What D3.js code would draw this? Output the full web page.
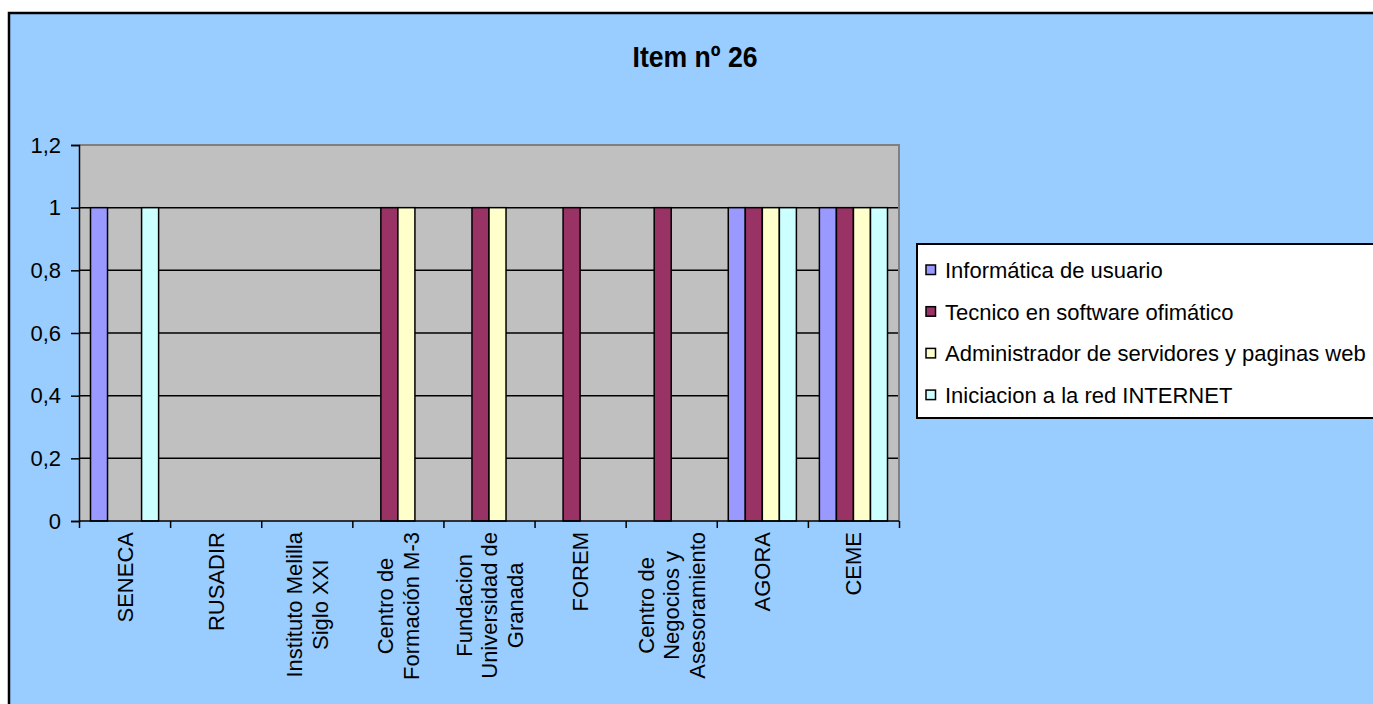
<!DOCTYPE html>
<html>
<head>
<meta charset="utf-8">
<script src="https://cdn.jsdelivr.net/npm/d3@7/dist/d3.min.js"></script>
<style>
  html, body { margin: 0; padding: 0; background: #ffffff; }
  svg { display: block; font-family: "Liberation Sans", Arial, sans-serif; }
</style>
</head>
<body>
<svg id="chart" width="1373" height="704"></svg>
<script>
const title = "Item nº 26";
const categories = [
  ["SENECA"],
  ["RUSADIR"],
  ["Instituto Melilla", "Siglo XXI"],
  ["Centro de", "Formación M-3"],
  ["Fundacion", "Universidad de", "Granada"],
  ["FOREM"],
  ["Centro de", "Negocios y", "Asesoramiento"],
  ["AGORA"],
  ["CEME"]
];
const seriesNames = [
  "Informática de usuario",
  "Tecnico en software ofimático",
  "Administrador de servidores y paginas web",
  "Iniciacion a la red INTERNET"
];
const seriesColors = ["#9999FF", "#993366", "#FFFFCC", "#CCFFFF"];
const informatica   = [1, 0, 0, 0, 0, 0, 0, 1, 1];
const tecnico       = [0, 0, 0, 1, 1, 1, 1, 1, 1];
const administrador = [0, 0, 0, 1, 1, 0, 0, 1, 1];
const iniciacion    = [1, 0, 0, 0, 0, 0, 0, 1, 1];
const yTicks = [0, 0.2, 0.4, 0.6, 0.8, 1, 1.2];
const yTickLabels = ["0", "0,2", "0,4", "0,6", "0,8", "1", "1,2"];

const seriesValues = [informatica, tecnico, administrador, iniciacion];

const svg = d3.select("#chart");

// chart area
svg.append("rect")
  .attr("x", 9).attr("y", 13)
  .attr("width", 1420).attr("height", 720)
  .attr("fill", "#99CCFF")
  .attr("stroke", "#000").attr("stroke-width", 2.5);

// title
svg.append("text")
  .attr("x", 695).attr("y", 67)
  .attr("text-anchor", "middle")
  .attr("font-size", 30).attr("font-weight", "bold")
  .attr("textLength", 125).attr("lengthAdjust", "spacingAndGlyphs")
  .text(title);

const plot = { left: 79, right: 899, top: 145, bottom: 521 };

const x = d3.scaleBand()
  .domain(d3.range(categories.length))
  .range([plot.left, plot.right])
  .paddingInner(0).paddingOuter(0);

const gapRatio = 1.35;
const groupW = x.bandwidth() * 4 / (4 + gapRatio);
const xs = d3.scaleBand()
  .domain(d3.range(seriesNames.length))
  .range([0, groupW]);

const y = d3.scaleLinear().domain([0, 1.2]).range([plot.bottom, plot.top]);

// plot background
svg.append("rect")
  .attr("x", plot.left).attr("y", plot.top)
  .attr("width", plot.right - plot.left).attr("height", plot.bottom - plot.top)
  .attr("fill", "#C0C0C0");

// gridlines
svg.append("g").selectAll("line")
  .data(yTicks.filter(t => t > 0 && t < 1.2))
  .join("line")
  .attr("x1", plot.left).attr("x2", plot.right)
  .attr("y1", d => y(d)).attr("y2", d => y(d))
  .attr("stroke", "#000").attr("stroke-width", 1.5);

// plot border top/right (gray)
svg.append("path")
  .attr("d", `M${plot.left},${plot.top}H${plot.right}V${plot.bottom}`)
  .attr("fill", "none").attr("stroke", "#808080").attr("stroke-width", 2);

// bars
const barData = [];
seriesValues.forEach((vals, s) => {
  vals.forEach((v, c) => { if (v > 0) barData.push({ s, c, v }); });
});
svg.append("g").selectAll("rect")
  .data(barData)
  .join("rect")
  .attr("x", d => x(d.c) + (x.bandwidth() - groupW) / 2 + xs(d.s))
  .attr("width", xs.bandwidth())
  .attr("y", d => y(d.v))
  .attr("height", d => y(0) - y(d.v))
  .attr("fill", d => seriesColors[d.s])
  .attr("stroke", "#000").attr("stroke-width", 1.5);

// y axis
const yAxis = d3.axisLeft(y)
  .tickValues(yTicks)
  .tickFormat((d, i) => yTickLabels[i])
  .tickSize(8).tickPadding(10);
const gy = svg.append("g").attr("transform", `translate(${plot.left},0)`).call(yAxis);
gy.select(".domain").attr("stroke", "#000").attr("stroke-width", 1.5);
gy.selectAll(".tick line").attr("stroke", "#000").attr("stroke-width", 1.5);
gy.selectAll(".tick text").attr("font-size", 22).attr("fill", "#000")
  .attr("font-family", "'Liberation Sans', Arial, sans-serif");

// x axis (boundary ticks)
const xb = d3.scaleLinear().domain([0, categories.length]).range([plot.left, plot.right]);
const xAxis = d3.axisBottom(xb).tickValues(d3.range(categories.length + 1)).tickSize(7).tickFormat("");
const gx = svg.append("g").attr("transform", `translate(0,${plot.bottom})`).call(xAxis);
gx.select(".domain").attr("stroke", "#000").attr("stroke-width", 1.5).attr("d", `M${plot.left},0H${plot.right}`);
gx.selectAll(".tick line").attr("stroke", "#000").attr("stroke-width", 1.5);

// category labels (rotated)
const lineH = 25.5;
const labels = svg.append("g").selectAll("g")
  .data(categories)
  .join("g")
  .attr("transform", (d, i) => `translate(${x(i) + x.bandwidth() / 2},${plot.bottom + 11}) rotate(-90)`);
labels.each(function(lines) {
  const g = d3.select(this);
  const t = g.append("text").attr("font-size", 22).attr("fill", "#000").attr("text-anchor", "middle");
  const n = lines.length;
  lines.forEach((ln, k) => {
    t.append("tspan").attr("x", 0).attr("y", (k - (n - 1) / 2) * lineH + 8).text(ln);
  });
  let maxW = 0;
  t.selectAll("tspan").each(function() { maxW = Math.max(maxW, this.getComputedTextLength()); });
  t.selectAll("tspan").attr("x", -maxW / 2);
});

// legend
const leg = svg.append("g");
leg.append("rect")
  .attr("x", 917).attr("y", 244)
  .attr("width", 500).attr("height", 174)
  .attr("fill", "#fff").attr("stroke", "#000").attr("stroke-width", 2);
const items = leg.selectAll("g.item")
  .data(seriesNames)
  .join("g").attr("class", "item")
  .attr("transform", (d, i) => `translate(0,${270 + i * 41.7})`);
items.append("rect")
  .attr("x", 926).attr("y", -5)
  .attr("width", 9.5).attr("height", 9.5)
  .attr("fill", (d, i) => seriesColors[i])
  .attr("stroke", "#000").attr("stroke-width", 1.5);
items.append("text")
  .attr("x", 945).attr("y", 8)
  .attr("font-size", 22).attr("fill", "#000")
  .text(d => d);
</script>
</body>
</html>
